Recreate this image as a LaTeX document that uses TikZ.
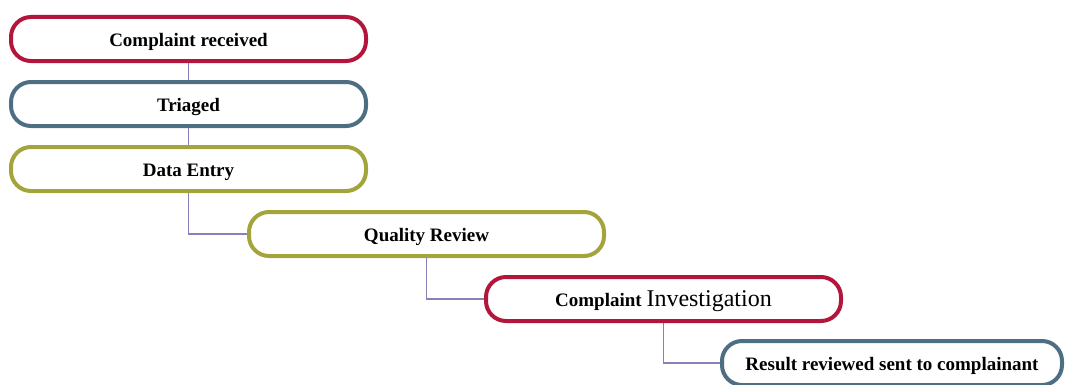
\documentclass[tikz,border=0pt]{standalone}
\usepackage{fontspec}
\setmainfont{Liberation Serif}
\definecolor{cred}{HTML}{B3163B}
\definecolor{cblue}{HTML}{4E6E83}
\definecolor{colive}{HTML}{A4A43C}
\definecolor{cline}{HTML}{8880B8}
\begin{document}
\begin{tikzpicture}[x=1pt,y=1pt,
  stagebox/.style={draw, line width=4pt, rounded corners=20pt, fill=white,
    minimum width=355pt, minimum height=44pt, inner sep=0pt,
    text height=14.5pt, text depth=0pt,
    font=\fontsize{19}{22}\selectfont\bfseries, text=black},
  link/.style={draw=cline, line width=1.5pt}]
\useasboundingbox (0,0) rectangle (1066,384);
\node[stagebox, draw=cred]   (c1) at (188.5,345) {Complaint received};
\node[stagebox, draw=cblue]  (c2) at (188.5,280) {Triaged};
\node[stagebox, draw=colive] (c3) at (188.5,215) {Data Entry};
\node[stagebox, draw=colive] (c4) at (426.5,150) {Quality Review};
\node[stagebox, draw=cred]   (c5) at (663.5,85) {Complaint {\fontsize{24}{26}\selectfont\mdseries Investigation}};
\node[stagebox, draw=cblue, minimum width=340pt] (c6) at (892,21) {Result reviewed sent to complainant};
\draw[link] (c1.south) -- (c2.north);
\draw[link] (c2.south) -- (c3.north);
\draw[link] (c3.south) |- (c4.west);
\draw[link] (c4.south) |- (c5.west);
\draw[link] (c5.south) |- (c6.west);
\end{tikzpicture}
\end{document}
